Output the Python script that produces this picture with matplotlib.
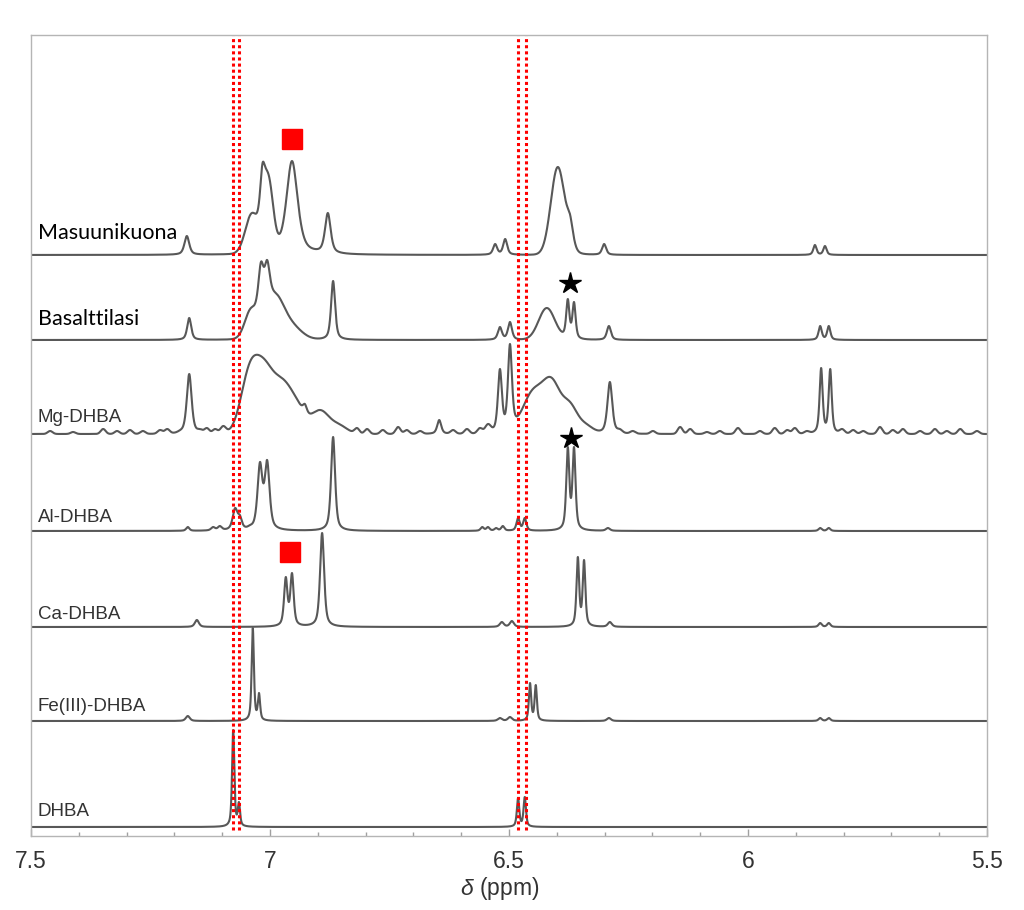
import numpy as np
import matplotlib
matplotlib.use("Agg")
import matplotlib.pyplot as plt
from matplotlib.ticker import MultipleLocator

plt.rcParams['mathtext.fontset'] = 'custom'
plt.rcParams['mathtext.it'] = 'Liberation Sans:italic'
plt.rcParams['mathtext.rm'] = 'Liberation Sans'

# ---------------- data: peaks (ppm, height, half-width) ----------------
# "lines": sharp resonances; "humps": broad / rounded features
masu_lines = [
    (7.174, 19, 0.006), (7.016, 91, 0.006), (6.954, 94, 0.014),
    (6.879, 42, 0.007), (6.529, 11, 0.005), (6.508, 16, 0.005), (6.372, 40, 0.008),
    (6.301, 11, 0.005), (5.860, 10, 0.004), (5.839, 9, 0.004),
]
masu_humps = [(7.038, 42, 0.016), (7.004, 82, 0.012), (6.398, 88, 0.017)]

basalt_lines = [
    (7.169, 22, 0.005), (7.019, 78, 0.007), (7.006, 80, 0.007), (6.927, 6, 0.004),
    (6.868, 59, 0.005), (6.519, 13, 0.005), (6.498, 18, 0.005), (6.377, 41, 0.004),
    (6.364, 38, 0.004), (6.291, 14, 0.005), (5.849, 14, 0.004), (5.831, 14, 0.004),
]
basalt_humps = [(7.040, 32, 0.015), (6.990, 48, 0.022), (6.955, 20, 0.025), (6.421, 32, 0.020)]

mg_lines = [
    (7.169, 60, 0.006), (6.927, 30, 0.005), (6.646, 14, 0.005), (6.519, 65, 0.005),
    (6.498, 90, 0.005), (6.289, 52, 0.006), (5.847, 66, 0.0038), (5.828, 65, 0.0038),
]
mg_humps = [
    (7.042, 72, 0.022), (7.010, 74, 0.022), (6.975, 56, 0.022), (6.945, 36, 0.022),
    (6.895, 24, 0.022), (6.855, 10, 0.020),
    (6.450, 45, 0.025), (6.410, 56, 0.022), (6.372, 32, 0.018), (6.340, 11, 0.018),
    # baseline wiggles
    (7.460, 3, 0.006), (7.412, 2, 0.006), (7.349, 5, 0.006), (7.320, 3, 0.006),
    (7.293, 4, 0.006), (7.266, 3, 0.006), (7.230, 4, 0.006), (7.215, 5, 0.006),
    (7.188, 4, 0.006), (7.146, 5, 0.006), (7.132, 6, 0.006), (7.115, 5, 0.006),
    (7.098, 8, 0.007), (6.818, 6, 0.006), (6.797, 5, 0.006), (6.764, 4, 0.006),
    (6.732, 7, 0.006), (6.714, 4, 0.006), (6.686, 3, 0.006), (6.617, 4, 0.006),
    (6.588, 5, 0.006), (6.561, 6, 0.006), (6.544, 10, 0.007), (6.268, 5, 0.006),
    (6.241, 3, 0.006), (6.199, 3, 0.006), (6.142, 7, 0.006), (6.121, 5, 0.006),
    (6.086, 2, 0.006), (6.059, 3, 0.006), (6.021, 6, 0.006), (5.975, 3, 0.006),
    (5.944, 6, 0.006), (5.918, 4, 0.006), (5.902, 6, 0.006), (5.877, 3, 0.006),
    (5.803, 5, 0.006), (5.780, 4, 0.006), (5.759, 3, 0.006), (5.724, 7, 0.006),
    (5.697, 4, 0.006), (5.676, 5, 0.006), (5.640, 3, 0.006), (5.609, 5, 0.006),
    (5.584, 3, 0.006), (5.556, 5, 0.006), (5.521, 3, 0.006),
]

al_lines = [
    (7.172, 4, 0.004), (7.119, 4, 0.005), (7.105, 5, 0.005), (7.073, 23, 0.006),
    (7.063, 16, 0.005), (7.042, 6, 0.005), (7.021, 69, 0.006), (7.006, 71, 0.006),
    (6.868, 94, 0.005), (6.556, 4, 0.004), (6.544, 4, 0.004), (6.527, 3, 0.004),
    (6.513, 5, 0.004), (6.481, 13, 0.004), (6.467, 13, 0.004), (6.377, 84, 0.0038),
    (6.364, 84, 0.0038), (6.293, 3, 0.005), (5.849, 3, 0.004), (5.831, 3, 0.004),
]
al_humps = []

ca_lines = [
    (7.153, 7, 0.005), (6.967, 50, 0.0042), (6.954, 54, 0.0042), (6.891, 94, 0.005),
    (6.515, 5, 0.005), (6.494, 6, 0.005), (6.356, 70, 0.0033), (6.343, 67, 0.0033),
    (6.289, 5, 0.005), (5.849, 4, 0.004), (5.831, 4, 0.004),
]
ca_humps = []

fe_lines = [
    (7.172, 5, 0.005), (7.036, 93, 0.0028), (7.023, 28, 0.0028), (6.519, 3, 0.005),
    (6.498, 4, 0.005), (6.456, 38, 0.0028), (6.444, 36, 0.0028), (6.291, 3, 0.005),
    (5.849, 3, 0.004), (5.831, 3, 0.004),
]
fe_humps = []

dhba_lines = [(7.077, 97, 0.0028), (7.065, 25, 0.0028), (6.481, 29, 0.003), (6.467, 30, 0.003)]
dhba_humps = []

sample_names = ["Masuunikuona", "Basalttilasi", "Mg-DHBA", "Al-DHBA", "Ca-DHBA", "Fe(III)-DHBA", "DHBA"]
sample_lines = [masu_lines, basalt_lines, mg_lines, al_lines, ca_lines, fe_lines, dhba_lines]
sample_humps = [masu_humps, basalt_humps, mg_humps, al_humps, ca_humps, fe_humps, dhba_humps]

reference_ppm = [7.077, 7.064, 6.481, 6.464]
square_marks = [(6.954, 697), (6.958, 284)]
star_marks = [(6.372, 553), (6.370, 398)]
x_ticks = [7.5, 7.0, 6.5, 6.0, 5.5]
x_ticklabels = ["7.5", "7", "6.5", "6", "5.5"]

# ---------------- layout ----------------
offsets = [581, 496, 402, 305, 209, 115, 9]
label_y = [597, 511, 414, 314, 217, 125, 20]
label_fonts = [("Lato", 15.5, "black"), ("Lato", 15.5, "black")] + [("Liberation Sans", 13.5, "#333333")] * 5

ppm = np.linspace(7.5, 5.5, 24001)


def voigt(x, c, w, eta=0.6):
    u = (x - c) / w
    return eta / (1.0 + u ** 2) + (1 - eta) * np.exp(-np.log(2) * u ** 2)


def gau(x, c, w):
    return np.exp(-np.log(2) * ((x - c) / w) ** 2)


def spectrum(lines, humps):
    comps = [(c, h, w, voigt) for c, h, w in lines] + [(c, h, w, gau) for c, h, w in humps]
    centers = np.array([c[0] for c in comps])
    heights = np.array([c[1] for c in comps], dtype=float)
    M = np.column_stack([f(centers, c, w) for c, h, w, f in comps])
    amps = np.linalg.lstsq(M, heights, rcond=None)[0]
    y = np.zeros_like(ppm)
    for a, (c, h, w, f) in zip(amps, comps):
        y += a * f(ppm, c, w)
    return y


fig = plt.figure(figsize=(10.24, 9.10), dpi=100)
ax = fig.add_axes([31 / 1024, 1 - 836 / 910, (987 - 31) / 1024, (836 - 35) / 910])
ax.set_xlim(7.5, 5.5)
ax.set_ylim(0, 801)

for lines, humps, off in zip(sample_lines, sample_humps, offsets):
    ax.plot(ppm, off + spectrum(lines, humps), color="#585858", lw=1.5, solid_joinstyle="round")

for name, ly, (fam, fs, col) in zip(sample_names, label_y, label_fonts):
    ax.text(7.486, ly, name, fontfamily=fam, fontsize=fs, color=col, ha="left", va="baseline")

for p in reference_ppm:
    ax.plot([p, p], [6, 801], color="#ff0000", lw=2.2, linestyle=(0, (1, 1)))

for x, y in square_marks:
    ax.plot([x], [y], marker="s", markersize=14.4, color="#ff0000", linestyle="none")
for x, y in star_marks:
    ax.plot([x], [y], marker="*", markersize=16, color="black", linestyle="none")

ax.set_xticks(x_ticks)
ax.set_xticklabels(x_ticklabels, fontfamily="Liberation Sans")
ax.xaxis.set_minor_locator(MultipleLocator(0.1))
ax.tick_params(axis="x", which="major", direction="in", length=5, width=1, color="#a0a0a0",
               labelsize=16.5, labelcolor="#333333", pad=10)
ax.tick_params(axis="x", which="minor", direction="in", length=3, width=1, color="#a0a0a0")
ax.set_yticks([])
for s in ax.spines.values():
    s.set_color("#b5b5b5")
    s.set_linewidth(1.0)

fig.text(499.5 / 1024, 1 - 888 / 910, r"$\delta$ (ppm)", fontsize=16.5, color="#333333",
         fontfamily="Liberation Sans", ha="center", va="center")

fig.savefig("out.png", dpi=100)
